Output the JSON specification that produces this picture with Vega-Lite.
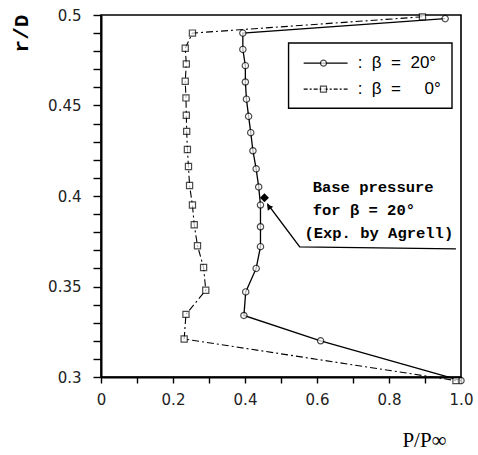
{
  "$schema": "https://vega.github.io/schema/vega-lite/v6.json",
  "autosize": "none",
  "width": 360,
  "height": 362,
  "padding": {"left": 101, "top": 15, "right": 17, "bottom": 78},
  "background": "white",
  "config": {
    "view": {"stroke": "black", "strokeWidth": 1.6},
    "axis": {"grid": false, "domainColor": "black", "domainWidth": 2, "tickColor": "black", "tickWidth": 1.4, "labelFont": "DejaVu Sans", "labelFontSize": 15, "labelColor": "#222", "titleColor": "black", "labelOverlap": false, "labelFlush": false, "tickCount": 50}
  },
  "datasets": {
    "beta20": [
      {"p": 0.956, "r": 0.498}, {"p": 0.394, "r": 0.490}, {"p": 0.394, "r": 0.481}, {"p": 0.401, "r": 0.472},
      {"p": 0.401, "r": 0.463}, {"p": 0.404, "r": 0.4535}, {"p": 0.410, "r": 0.444}, {"p": 0.416, "r": 0.435},
      {"p": 0.422, "r": 0.425}, {"p": 0.431, "r": 0.415}, {"p": 0.438, "r": 0.405}, {"p": 0.443, "r": 0.395},
      {"p": 0.443, "r": 0.383}, {"p": 0.443, "r": 0.372}, {"p": 0.431, "r": 0.360}, {"p": 0.402, "r": 0.347},
      {"p": 0.397, "r": 0.334}, {"p": 0.610, "r": 0.320}, {"p": 1.0, "r": 0.298}
    ],
    "beta0": [
      {"p": 0.893, "r": 0.499}, {"p": 0.254, "r": 0.490}, {"p": 0.234, "r": 0.4816}, {"p": 0.237, "r": 0.4729},
      {"p": 0.234, "r": 0.4634}, {"p": 0.236, "r": 0.4542}, {"p": 0.237, "r": 0.4446}, {"p": 0.238, "r": 0.4357},
      {"p": 0.240, "r": 0.4257}, {"p": 0.243, "r": 0.4163}, {"p": 0.246, "r": 0.4058}, {"p": 0.254, "r": 0.395},
      {"p": 0.259, "r": 0.3841}, {"p": 0.268, "r": 0.3725}, {"p": 0.285, "r": 0.3605}, {"p": 0.291, "r": 0.3479},
      {"p": 0.236, "r": 0.3346}, {"p": 0.231, "r": 0.321}, {"p": 0.986, "r": 0.298}
    ],
    "leader": [
      {"p": 0.462, "r": 0.3958, "k": 1}, {"p": 0.552, "r": 0.3719, "k": 2}, {"p": 0.986, "r": 0.3708, "k": 3}
    ],
    "note": [
      {"p": 0.588, "r": 0.4047, "t": "Base pressure"},
      {"p": 0.588, "r": 0.3925, "t": "for β = 20°"},
      {"p": 0.565, "r": 0.3797, "t": "(Exp. by Agrell)"}
    ],
    "legendRows": [
      {"a": 0.563, "b": 0.685, "m": 0.618, "r": 0.4734, "s": "b20", "t": ":\u00a0\u00a0β\u00a0\u00a0=\u00a0\u00a020°"},
      {"a": 0.563, "b": 0.685, "m": 0.618, "r": 0.459, "s": "b0", "t": ":\u00a0\u00a0β\u00a0\u00a0=\u00a0\u00a0\u00a0\u00a0\u00a00°"}
    ]
  },
  "layer": [
    {
      "data": {"name": "beta20"},
      "mark": {"type": "line", "color": "black", "strokeWidth": 1.3},
      "encoding": {
        "x": {"field": "p", "type": "quantitative", "scale": {"domain": [0, 1], "nice": false, "zero": false},
          "axis": {"values": [0, 0.1, 0.2, 0.3, 0.4, 0.5, 0.6, 0.7, 0.8, 0.9, 1.0], "tickCount": 50, "tickSize": 6, "labelPadding": 9,
            "labelExpr": "datum.value == 0 ? '0' : (round(datum.value * 10) % 2 == 0 ? format(datum.value, '.1f') : '')",
            "title": "P/P∞", "titleFont": "Liberation Serif", "titleFontSize": 21, "titleFontWeight": "normal",
            "titleX": 323, "titleY": 63, "titleAlign": "center", "titleBaseline": "middle"}},
        "y": {"field": "r", "type": "quantitative", "scale": {"domain": [0.3, 0.5], "nice": false, "zero": false},
          "axis": {"values": [0.30, 0.31, 0.32, 0.33, 0.34, 0.35, 0.36, 0.37, 0.38, 0.39, 0.40, 0.41, 0.42, 0.43, 0.44, 0.45, 0.46, 0.47, 0.48, 0.49, 0.50],
            "tickCount": 50, "tickSize": 8, "labelPadding": 12,
            "labelExpr": "round(datum.value * 100) % 5 == 0 ? format(datum.value, '.2~f') : ''",
            "title": "r/D", "titleFont": "Liberation Mono", "titleFontSize": 21, "titleFontWeight": "bold",
            "titleAngle": -90, "titleX": -80, "titleY": 18, "titleAlign": "center", "titleBaseline": "middle"}},
        "order": {"field": "r", "type": "quantitative", "sort": "descending"}
      }
    },
    {
      "data": {"name": "beta20"},
      "mark": {"type": "point", "shape": "circle", "filled": true, "fill": "white", "stroke": "black", "strokeWidth": 1.2, "size": 40},
      "encoding": {"x": {"field": "p", "type": "quantitative"}, "y": {"field": "r", "type": "quantitative"}}
    },
    {
      "data": {"name": "beta0"},
      "mark": {"type": "line", "color": "black", "strokeWidth": 1.1, "strokeDash": [7, 3, 2, 3]},
      "encoding": {
        "x": {"field": "p", "type": "quantitative"}, "y": {"field": "r", "type": "quantitative"},
        "order": {"field": "r", "type": "quantitative", "sort": "descending"}
      }
    },
    {
      "data": {"name": "beta0"},
      "mark": {"type": "point", "shape": "square", "filled": true, "fill": "white", "stroke": "black", "strokeWidth": 1.2, "size": 38},
      "encoding": {"x": {"field": "p", "type": "quantitative"}, "y": {"field": "r", "type": "quantitative"}}
    },
    {
      "data": {"values": [{"p": 0.454, "r": 0.399}]},
      "mark": {"type": "point", "shape": "diamond", "filled": true, "color": "black", "size": 80, "opacity": 1},
      "encoding": {"x": {"field": "p", "type": "quantitative"}, "y": {"field": "r", "type": "quantitative"}}
    },
    {
      "data": {"name": "leader"},
      "mark": {"type": "line", "color": "black", "strokeWidth": 1.4},
      "encoding": {
        "x": {"field": "p", "type": "quantitative"}, "y": {"field": "r", "type": "quantitative"},
        "order": {"field": "k", "type": "quantitative"}
      }
    },
    {
      "data": {"values": [{"p": 0.466, "r": 0.3942}]},
      "mark": {"type": "point", "shape": "triangle-up", "filled": true, "color": "black", "size": 45, "angle": -37, "opacity": 1},
      "encoding": {"x": {"field": "p", "type": "quantitative"}, "y": {"field": "r", "type": "quantitative"}}
    },
    {
      "data": {"name": "note"},
      "mark": {"type": "text", "align": "left", "baseline": "middle", "font": "Liberation Mono", "fontWeight": "bold", "fontSize": 15.5, "color": "black"},
      "encoding": {"x": {"field": "p", "type": "quantitative"}, "y": {"field": "r", "type": "quantitative"}, "text": {"field": "t"}}
    },
    {
      "data": {"values": [{"a": 0.521, "b": 0.975, "lo": 0.4485, "hi": 0.4845}]},
      "mark": {"type": "rect", "fill": "white", "stroke": "black", "strokeWidth": 1.4},
      "encoding": {
        "x": {"field": "a", "type": "quantitative"}, "x2": {"field": "b"},
        "y": {"field": "lo", "type": "quantitative"}, "y2": {"field": "hi"}
      }
    },
    {
      "data": {"name": "legendRows"},
      "mark": {"type": "rule", "color": "black", "strokeWidth": 1.3},
      "encoding": {
        "x": {"field": "a", "type": "quantitative"}, "x2": {"field": "b"},
        "y": {"field": "r", "type": "quantitative"},
        "strokeDash": {"field": "s", "type": "nominal", "scale": {"domain": ["b20", "b0"], "range": [[1, 0], [4, 2, 2, 2]]}, "legend": null}
      }
    },
    {
      "data": {"name": "legendRows"},
      "mark": {"type": "point", "filled": true, "fill": "white", "stroke": "black", "strokeWidth": 1.2, "size": 36},
      "encoding": {
        "x": {"field": "m", "type": "quantitative"}, "y": {"field": "r", "type": "quantitative"},
        "shape": {"field": "s", "type": "nominal", "scale": {"domain": ["b20", "b0"], "range": ["circle", "square"]}, "legend": null}
      }
    },
    {
      "data": {"name": "legendRows"},
      "mark": {"type": "text", "align": "left", "baseline": "middle", "font": "Liberation Sans", "fontSize": 17, "color": "black", "dx": 54},
      "encoding": {"x": {"field": "a", "type": "quantitative"}, "y": {"field": "r", "type": "quantitative"}, "text": {"field": "t"}}
    }
  ]
}
